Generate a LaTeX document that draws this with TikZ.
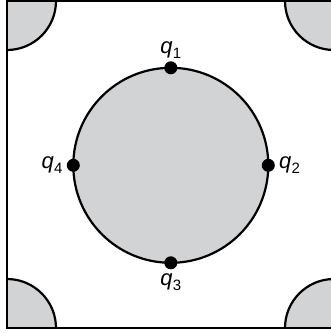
\documentclass[tikz,border=0pt]{standalone}
\usepackage{fontspec}
\setmainfont{Liberation Sans}
\usetikzlibrary{positioning}
\definecolor{shade}{HTML}{D1D3D4}
\tikzset{
  dot/.style={circle, fill=black, inner sep=0pt, minimum size=13pt},
  qlabel/.style={inner sep=1pt, font=\fontsize{22}{24}\selectfont},
}
\newcommand{\qname}[1]{\textit{q}\kern0.3pt\raisebox{-0.45ex}{\fontsize{15}{16}\selectfont #1}}

\begin{document}
\begin{tikzpicture}[x=1pt, y=-1pt]
  \useasboundingbox (0,0) rectangle (331,333);

  % Corner pieces
  \begin{scope}
    \clip (7,1) rectangle (334,328);
    \foreach \c in {(7,1),(334,1),(7,328),(334,328)}
      \filldraw[fill=shade, line width=2.2pt] \c circle (49);
  \end{scope}

  % Frame
  \draw[line width=1.8pt] (7,1) rectangle (334,328);

  % Circle
  \filldraw[fill=shade, line width=2.2pt] (170.8,165.3) circle (97.5);

  % Points
  \node[dot] (q1) at (170.8,67.8) {};
  \node[dot] (q2) at (268.3,165.3) {};
  \node[dot] (q3) at (170.8,262.8) {};
  \node[dot] (q4) at (73.3,165.3) {};

  % Labels
  \node[qlabel, above=1pt of q1] (l1) {\qname{1}};
  \node[qlabel, right=3pt of q2] (l2) {\qname{2}};
  \node[qlabel, below=3pt of q3] (l3) {\qname{3}};
  \node[qlabel, left=3pt of q4] (l4) {\qname{4}};
\end{tikzpicture}
\end{document}
